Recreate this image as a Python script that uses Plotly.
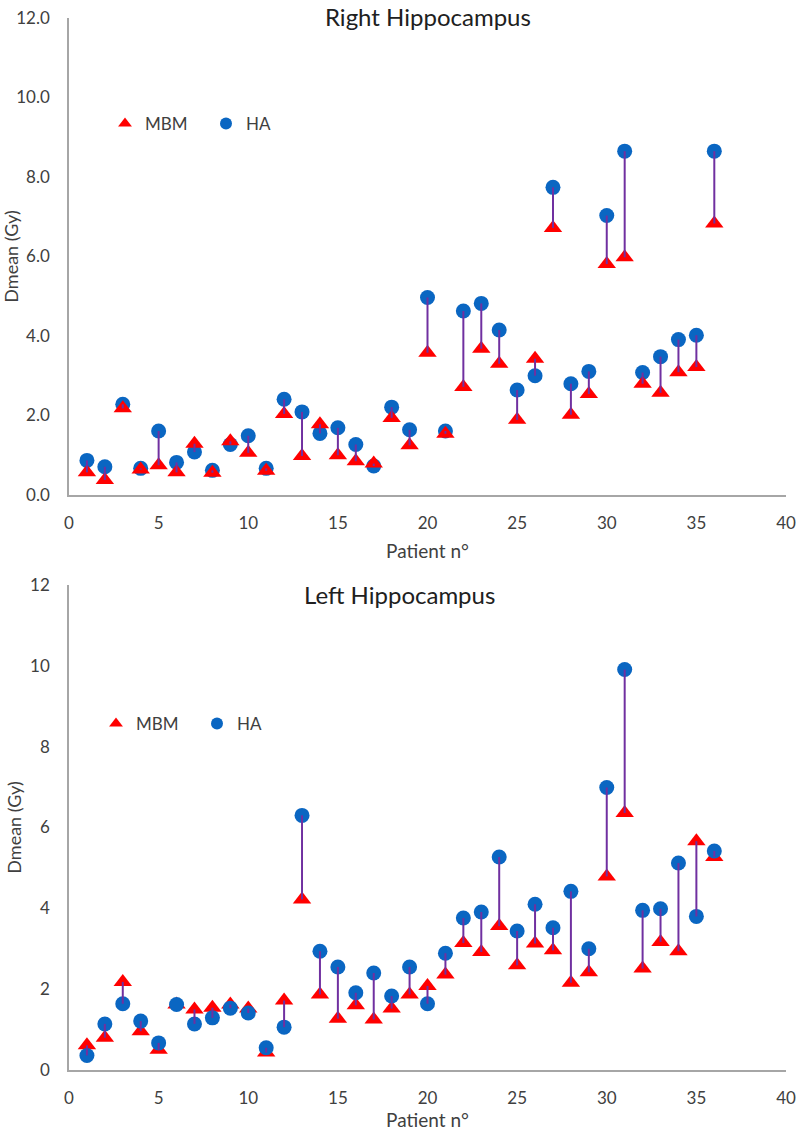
import plotly.graph_objects as go

patients = list(range(1, 37))

right_mbm = [0.57, 0.38, 2.18, 0.64, 0.75, 0.57, 1.29, 0.56, 1.35, 1.06,
             0.61, 2.04, 0.98, 1.78, 1.00, 0.85, 0.79, 1.94, 1.25, 3.58,
             1.54, 2.72, 3.68, 3.30, 1.89, 3.43, 6.72, 2.02, 2.54, 5.81,
             5.98, 2.80, 2.57, 3.09, 3.22, 6.83]
right_ha = [0.87, 0.71, 2.28, 0.67, 1.61, 0.82, 1.08, 0.62, 1.27, 1.49,
            0.67, 2.41, 2.09, 1.55, 1.69, 1.27, 0.73, 2.21, 1.64, 4.97,
            1.61, 4.63, 4.82, 4.15, 2.64, 3.00, 7.74, 2.80, 3.11, 7.03,
            8.65, 3.08, 3.48, 3.91, 4.02, 8.65]

left_mbm = [0.61, 0.80, 2.18, 0.96, 0.50, 1.62, 1.50, 1.54, 1.62, 1.52,
            0.43, 1.72, 4.22, 1.87, 1.27, 1.60, 1.25, 1.52, 1.87, 2.08,
            2.36, 3.14, 2.92, 3.56, 2.59, 3.13, 2.96, 2.16, 2.42, 4.79,
            6.36, 2.51, 3.17, 2.94, 5.66, 5.27]
left_ha = [0.36, 1.14, 1.64, 1.21, 0.67, 1.62, 1.14, 1.29, 1.53, 1.41,
           0.55, 1.06, 6.30, 2.94, 2.55, 1.91, 2.40, 1.83, 2.55, 1.64,
           2.89, 3.76, 3.91, 5.27, 3.44, 4.10, 3.52, 4.42, 3.00, 6.99,
           9.91, 3.95, 3.99, 5.12, 3.80, 5.42]

top_ticks = [0, 2, 4, 6, 8, 10, 12]
bottom_ticks = [0, 2, 4, 6, 8, 10, 12]
x_ticks = [0, 5, 10, 15, 20, 25, 30, 35, 40]

FONT = "Lato"
TXT = "#404040"
RED = "#FF0000"
BLUE = "#0A66C2"
PURPLE = "#7030A0"
AXIS = "#A6A6A6"

W, H = 797, 1131


def segs(xs, a, b):
    X, Y = [], []
    for x, u, v in zip(xs, a, b):
        X += [x, x, None]
        Y += [u, v, None]
    return X, Y


fig = go.Figure()

mbm_marker = dict(symbol="triangle-up", size=16, color=RED)
ha_marker = dict(symbol="circle", size=15, color=BLUE)

# Top chart: HA then MBM then connectors
fig.add_trace(go.Scatter(x=patients, y=right_ha, mode="markers", name="HA",
                         marker=ha_marker, xaxis="x", yaxis="y", legend="legend",
                         legendrank=2))
fig.add_trace(go.Scatter(x=patients, y=right_mbm, mode="markers", name="MBM",
                         marker=mbm_marker, xaxis="x", yaxis="y", legend="legend",
                         legendrank=1))
sx, sy = segs(patients, right_mbm, right_ha)
fig.add_trace(go.Scatter(x=sx, y=sy, mode="lines", line=dict(color=PURPLE, width=2),
                         showlegend=False, hoverinfo="skip", xaxis="x", yaxis="y"))

# Bottom chart: MBM then HA then connectors
fig.add_trace(go.Scatter(x=patients, y=left_mbm, mode="markers", name="MBM",
                         marker=mbm_marker, xaxis="x2", yaxis="y2", legend="legend2",
                         legendrank=1))
fig.add_trace(go.Scatter(x=patients, y=left_ha, mode="markers", name="HA",
                         marker=ha_marker, xaxis="x2", yaxis="y2", legend="legend2",
                         legendrank=2))
sx, sy = segs(patients, left_mbm, left_ha)
fig.add_trace(go.Scatter(x=sx, y=sy, mode="lines", line=dict(color=PURPLE, width=2),
                         showlegend=False, hoverinfo="skip", xaxis="x2", yaxis="y2"))

x0, x1 = 69 / W, 786 / W
top_dom = [1 - 495 / H, 1 - 18 / H]
bot_dom = [1 - 1070 / H, 1 - 585 / H]

common_x = dict(range=[0, 40], tickvals=x_ticks, showgrid=False, zeroline=False,
                showline=True, linecolor=AXIS, linewidth=1.5, ticks="",
                tickfont=dict(family=FONT, size=17, color=TXT), domain=[x0, x1],
                ticklabelstandoff=12, automargin=False, ticklabeloverflow="allow",
                title=dict(text="Patient n°", font=dict(family=FONT, size=19, color=TXT),
                           standoff=13))
common_y = dict(range=[0, 12], tickvals=top_ticks, showgrid=False, zeroline=False,
                showline=True, linecolor=AXIS, linewidth=1.5, ticks="",
                tickfont=dict(family=FONT, size=17, color=TXT),
                ticklabelstandoff=14, automargin=False,
                title=dict(text="Dmean (Gy)", font=dict(family=FONT, size=18, color=TXT),
                           standoff=4))

legend_common = dict(orientation="h", xanchor="left", yanchor="middle",
                     font=dict(family=FONT, size=17, color=TXT),
                     bgcolor="rgba(0,0,0,0)", itemsizing="constant",
                     traceorder="normal", entrywidth=56)

fig.update_layout(
    width=W, height=H,
    margin=dict(l=0, r=0, t=0, b=0),
    paper_bgcolor="white", plot_bgcolor="white",
    xaxis=dict(**common_x, anchor="y"),
    yaxis=dict(**common_y, domain=top_dom, anchor="x", tickformat=".1f"),
    xaxis2=dict(**common_x, anchor="y2"),
    yaxis2=dict(**{**common_y, "tickvals": bottom_ticks}, domain=bot_dom, anchor="x2",
                tickformat="d"),
    legend=dict(**legend_common, x=105 / W, y=1 - 124 / H),
    legend2=dict(**legend_common, x=96 / W, y=1 - 724 / H),
    annotations=[
        dict(text="Right Hippocampus", xref="paper", yref="paper",
             x=428 / W, y=1 - 16 / H, xanchor="center", yanchor="middle",
             showarrow=False, font=dict(family=FONT, size=24, color="#202020")),
        dict(text="Left Hippocampus", xref="paper", yref="paper",
             x=399 / W, y=1 - 594 / H, xanchor="center", yanchor="middle",
             showarrow=False, font=dict(family=FONT, size=24, color="#202020")),
    ],
    showlegend=True,
)

fig.write_html("out.html", config={"displayModeBar": False},
               post_script="document.body.style.margin='0';document.body.style.overflow='hidden';")
